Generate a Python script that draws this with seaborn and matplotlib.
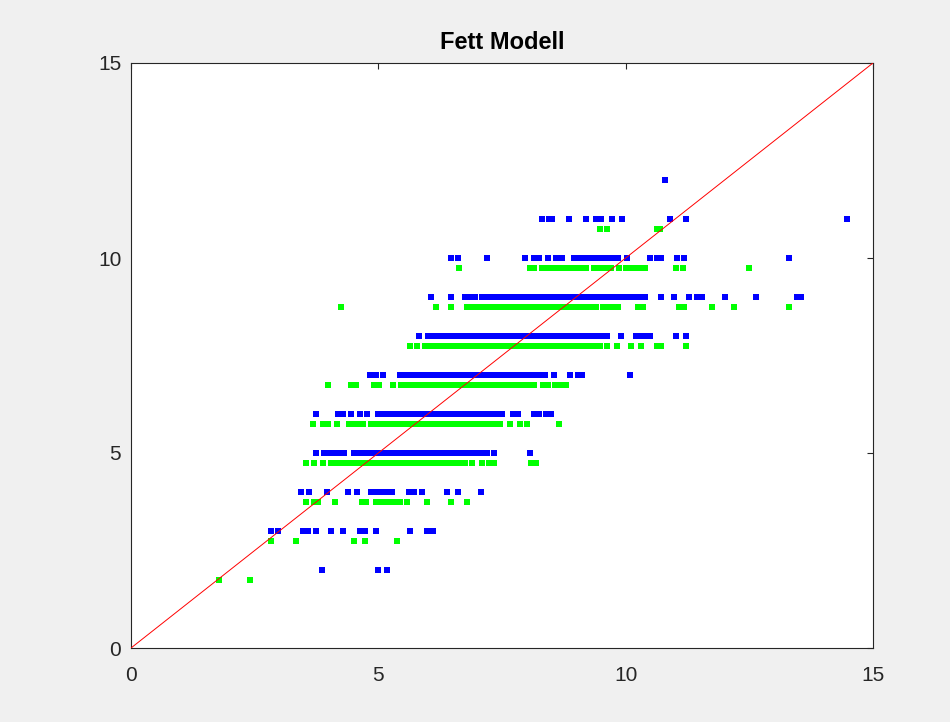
import matplotlib
matplotlib.use("Agg")
import matplotlib.pyplot as plt
import seaborn as sns
import pandas as pd

# ---- data: blue series (rows at integer y) ----
blue_y2 = [3.87, 4.99, 5.17]
blue_y3 = [2.84, 2.98, 3.48, 3.58, 3.73, 4.05, 4.29, 4.63, 4.73, 4.95, 5.64, 5.99, 6.10]
blue_y4 = [3.43, 3.60, 3.96, 4.39, 4.56, 4.85, 4.95, 5.05, 5.15, 5.28, 5.62, 5.73,
           5.89, 6.39, 6.61, 7.07]
blue_y5 = [3.73, 3.9, 4.0, 4.1, 4.2, 4.3, 4.5, 4.6, 4.7, 4.8, 4.9, 5.0, 5.1, 5.2, 5.3,
           5.4, 5.5, 5.6, 5.7, 5.8, 5.9, 6.0, 6.1, 6.2, 6.3, 6.4, 6.5, 6.6, 6.7, 6.8,
           6.9, 7.0, 7.1, 7.2, 7.34, 8.07]
blue_y6 = [3.73, 4.18, 4.28, 4.44, 4.62, 4.78, 4.99, 5.09, 5.2, 5.3, 5.4, 5.5, 5.6,
           5.7, 5.8, 5.9, 6.0, 6.1, 6.2, 6.3, 6.4, 6.5, 6.6, 6.7, 6.8, 6.9, 7.0, 7.1,
           7.2, 7.3, 7.4, 7.5, 7.72, 7.82, 8.15, 8.25, 8.39, 8.49]
blue_y7 = [4.84, 4.95, 5.09, 5.44, 5.55, 5.65, 5.75, 5.85, 5.95, 6.05, 6.15, 6.25,
           6.35, 6.45, 6.55, 6.65, 6.75, 6.85, 6.95, 7.05, 7.15, 7.25, 7.35, 7.45,
           7.55, 7.65, 7.75, 7.85, 7.95, 8.05, 8.15, 8.25, 8.37, 8.55, 8.87, 9.03,
           9.12, 10.09]
blue_y8 = [5.82, 6.0, 6.1, 6.2, 6.3, 6.4, 6.5, 6.6, 6.7, 6.8, 6.9, 7.0, 7.1, 7.2, 7.3,
           7.4, 7.5, 7.6, 7.7, 7.8, 7.9, 8.0, 8.1, 8.2, 8.3, 8.4, 8.5, 8.6, 8.7, 8.8,
           8.9, 9.0, 9.1, 9.2, 9.3, 9.4, 9.53, 9.63, 9.90, 10.2, 10.3, 10.4, 10.5,
           11.01, 11.21]
blue_y9 = [6.06, 6.46, 6.75, 6.85, 6.95, 7.1, 7.2, 7.3, 7.4, 7.5, 7.6, 7.7, 7.8, 7.9,
           8.0, 8.1, 8.2, 8.3, 8.4, 8.5, 8.6, 8.7, 8.8, 8.9, 9.0, 9.1, 9.2, 9.3, 9.4,
           9.5, 9.6, 9.7, 9.8, 9.9, 10.0, 10.1, 10.2, 10.3, 10.4, 10.71, 10.97,
           11.28, 11.45, 11.55, 12.01, 12.63, 13.47, 13.55]
blue_y10 = [6.46, 6.62, 7.20, 7.96, 8.15, 8.25, 8.42, 8.6, 8.72, 8.95, 9.05, 9.15,
            9.25, 9.35, 9.45, 9.55, 9.65, 9.75, 9.85, 10.02, 10.49, 10.64, 10.72,
            11.03, 11.18, 13.30]
blue_y11 = [8.30, 8.45, 8.52, 8.85, 9.20, 9.41, 9.51, 9.73, 9.93, 10.90, 11.21, 14.47]
blue_y12 = [10.80]

# ---- data: green series (rows at y - 0.25) ----
green_y1_75 = [1.77, 2.40]
green_y2_75 = [2.84, 3.33, 4.51, 4.74, 5.37]
green_y3_75 = [3.53, 3.69, 3.79, 4.12, 4.66, 4.76, 4.95, 5.05, 5.15, 5.23, 5.33, 5.44,
               5.57, 5.99, 6.46, 6.79]
green_y4_75 = [3.53, 3.70, 3.89, 4.05, 4.15, 4.25, 4.35, 4.45, 4.55, 4.65, 4.75, 4.85,
               4.95, 5.05, 5.15, 5.25, 5.35, 5.45, 5.55, 5.65, 5.75, 5.85, 5.95, 6.05,
               6.15, 6.25, 6.35, 6.45, 6.55, 6.65, 6.75, 6.89, 7.09, 7.24, 7.34, 8.09,
               8.19]
green_y5_75 = [3.67, 3.89, 3.99, 4.16, 4.4, 4.5, 4.6, 4.7, 4.85, 4.95, 5.05, 5.15, 5.25,
               5.35, 5.45, 5.55, 5.65, 5.75, 5.85, 5.95, 6.05, 6.15, 6.25, 6.35, 6.45,
               6.55, 6.65, 6.75, 6.85, 6.95, 7.05, 7.15, 7.25, 7.35, 7.45, 7.67, 7.86,
               8.0, 8.65]
green_y6_75 = [3.98, 4.45, 4.54, 4.91, 5.02, 5.30, 5.45, 5.55, 5.65, 5.75, 5.85, 5.95,
               6.05, 6.15, 6.25, 6.35, 6.45, 6.55, 6.65, 6.75, 6.85, 6.95, 7.05, 7.15,
               7.25, 7.35, 7.45, 7.55, 7.65, 7.75, 7.85, 7.95, 8.05, 8.15, 8.33, 8.42,
               8.58, 8.67, 8.80]
green_y7_75 = [5.64, 5.79, 5.95, 6.05, 6.15, 6.25, 6.35, 6.45, 6.55, 6.65, 6.75, 6.85,
               6.95, 7.05, 7.15, 7.25, 7.35, 7.45, 7.55, 7.65, 7.75, 7.85, 7.95, 8.05,
               8.15, 8.25, 8.35, 8.45, 8.55, 8.65, 8.75, 8.85, 8.95, 9.05, 9.15, 9.25,
               9.35, 9.49, 9.63, 9.83, 10.11, 10.32, 10.63, 10.72, 11.21]
green_y8_75 = [4.25, 6.16, 6.47, 6.8, 6.9, 7.0, 7.1, 7.2, 7.3, 7.4, 7.5, 7.6, 7.7, 7.8,
               7.9, 8.0, 8.1, 8.2, 8.3, 8.4, 8.5, 8.6, 8.7, 8.8, 8.9, 9.0, 9.1, 9.2, 9.3,
               9.4, 9.55, 9.65, 9.75, 9.85, 10.25, 10.36, 11.08, 11.17, 11.75, 12.2,
               13.3]
green_y9_75 = [6.64, 8.07, 8.14, 8.3, 8.4, 8.5, 8.6, 8.7, 8.8, 8.9, 9.0, 9.1, 9.2, 9.36,
               9.49, 9.6, 9.7, 9.86, 10.0, 10.1, 10.2, 10.3, 10.4, 11.01, 11.15, 12.49]
green_y10_75 = [9.48, 9.62, 10.63, 10.69]

blue_rows = {2: blue_y2, 3: blue_y3, 4: blue_y4, 5: blue_y5, 6: blue_y6, 7: blue_y7,
             8: blue_y8, 9: blue_y9, 10: blue_y10, 11: blue_y11, 12: blue_y12}
green_rows = {1.75: green_y1_75, 2.75: green_y2_75, 3.75: green_y3_75,
              4.75: green_y4_75, 5.75: green_y5_75, 6.75: green_y6_75,
              7.75: green_y7_75, 8.75: green_y8_75, 9.75: green_y9_75,
              10.75: green_y10_75}

diag_x = [0, 15]
diag_y = [0, 15]
ticks = [0, 5, 10, 15]
title = "Fett Modell"


def to_frame(rows):
    xs, ys = [], []
    for yv, xl in rows.items():
        xs.extend(xl)
        ys.extend([yv] * len(xl))
    return pd.DataFrame({"x": xs, "y": ys})


blue_df = to_frame(blue_rows)
green_df = to_frame(green_rows)

sns.set_style("white")
plt.rcParams["font.family"] = ["Liberation Sans", "DejaVu Sans"]

fig = plt.figure(figsize=(9.5, 7.22), dpi=100, facecolor="#f0f0f0")
ax = fig.add_axes([131 / 950, 74 / 722, 742 / 950, 585 / 722])
ax.set_facecolor("white")

sns.scatterplot(data=blue_df, x="x", y="y", ax=ax, color=(0, 0, 1), marker="s",
                s=13, linewidth=0, legend=False, zorder=2)
sns.scatterplot(data=green_df, x="x", y="y", ax=ax, color=(0, 1, 0), marker="s",
                s=13, linewidth=0, legend=False, zorder=2)
sns.lineplot(x=diag_x, y=diag_y, ax=ax, color=(1, 0, 0), linewidth=0.7, zorder=3)

ax.set_xlim(0, 15)
ax.set_ylim(0, 15)
ax.set_xticks(ticks)
ax.set_yticks(ticks)
ax.set_xticklabels([str(t) for t in ticks])
ax.set_yticklabels([str(t) for t in ticks])
ax.set_xlabel("")
ax.set_ylabel("")

for sp in ax.spines.values():
    sp.set_visible(True)
    sp.set_color("#262626")
    sp.set_linewidth(0.8)

ax.tick_params(axis="both", which="both", direction="in", length=4.5, width=0.8,
               color="#262626", labelcolor="#262626", labelsize=15,
               top=True, right=True)
ax.tick_params(axis="x", pad=13)
ax.tick_params(axis="y", pad=7)

ax.set_title(title, fontsize=17, fontweight="bold", color="black", pad=10)

fig.savefig("out.png", dpi=100, facecolor=fig.get_facecolor())
